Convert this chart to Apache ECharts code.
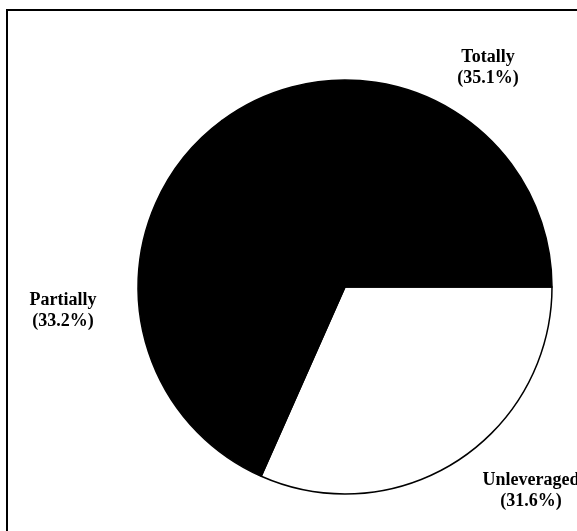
<!DOCTYPE html>
<html>
<head>
<meta charset="utf-8">
<script src="https://cdn.jsdelivr.net/npm/echarts@6/dist/echarts.min.js"></script>
<style>
  html, body { margin: 0; padding: 0; background: #fff; }
  #chart { width: 577px; height: 531px; }
</style>
</head>
<body>
<div id="chart"></div>
<script>
// slices, in drawing order clockwise from 3 o'clock
const names = ["Unleveraged", "Partially", "Totally"];
const shares = [31.6, 33.2, 35.1];
const fills = ["#ffffff", "#000000", "#000000"];

// where each label sits (centre of text block)
const labelPos = {
  Unleveraged: [531, 491],
  Partially: [63, 311],
  Totally: [488, 68]
};

const myChart = echarts.init(document.getElementById("chart"));
myChart.setOption({
  animation: false,
  backgroundColor: "#fff",
  graphic: [
    {
      type: "rect",
      shape: { x: 7, y: 10, width: 600, height: 540 },
      style: { fill: "none", stroke: "#000", lineWidth: 2 },
      silent: true
    }
  ],
  series: [
    {
      type: "pie",
      center: [345, 287],
      radius: 207,
      startAngle: 0,
      clockwise: true,
      avoidLabelOverlap: false,
      emphasis: { disabled: true },
      labelLine: { show: false },
      label: {
        show: true,
        position: "outside",
        formatter: "{b}\n({c}%)",
        fontFamily: "Liberation Serif",
        fontWeight: "bold",
        fontSize: 18,
        lineHeight: 21,
        color: "#000",
        align: "center"
      },
      labelLayout: function (params) {
        const p = labelPos[names[params.dataIndex]];
        return { x: p[0], y: p[1], align: "center", verticalAlign: "middle" };
      },
      itemStyle: { borderColor: "#000", borderWidth: 1.5 },
      data: names.map((n, i) => ({
        name: n,
        value: shares[i],
        itemStyle: { color: fills[i] }
      }))
    }
  ]
});
</script>
</body>
</html>
